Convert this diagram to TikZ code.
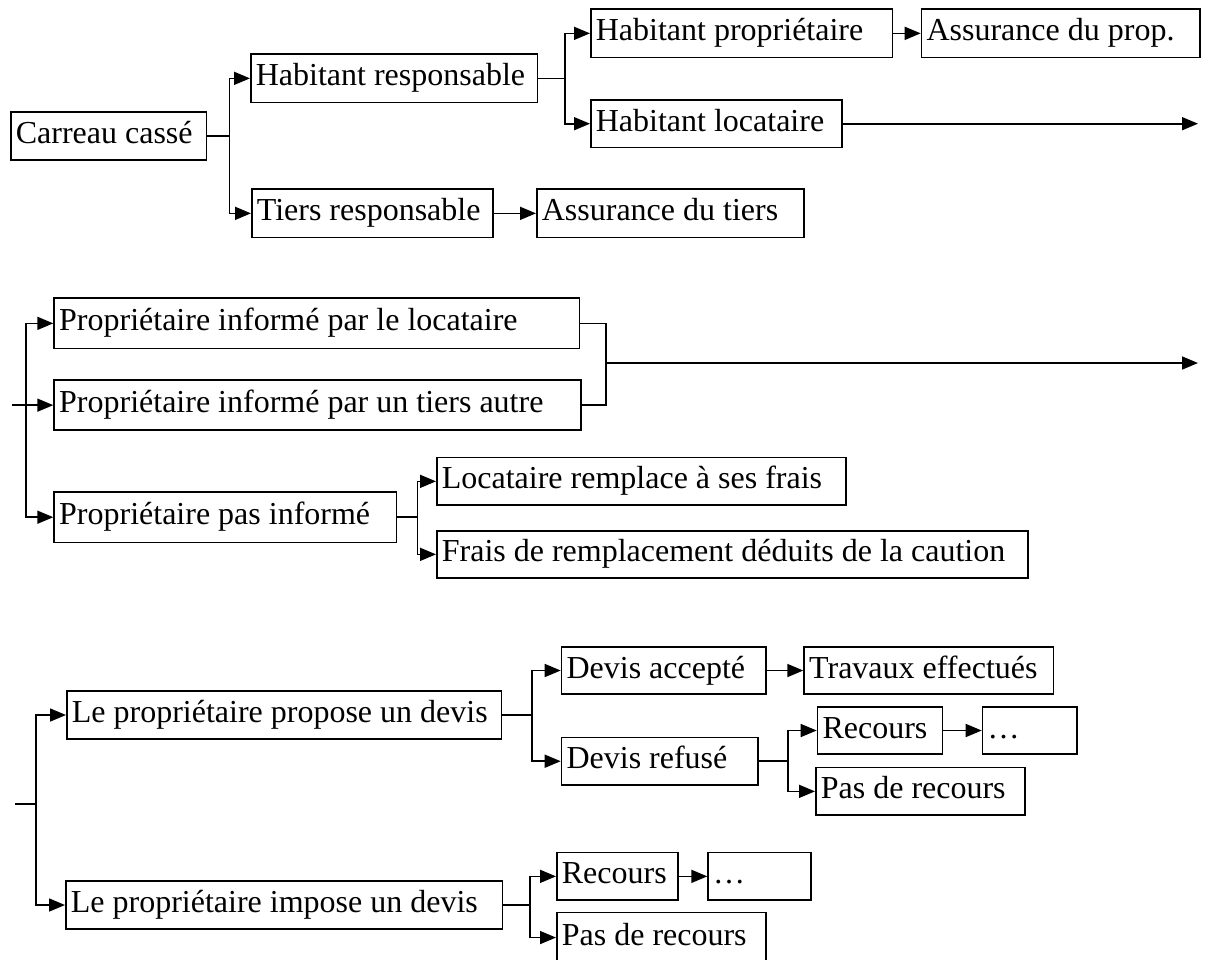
\documentclass[tikz,border=0pt]{standalone}
\usepackage{fontspec}
\setmainfont{Liberation Serif}
\usetikzlibrary{arrows.meta}
% plain word spacing, no hyphenation inside the boxes
\newcommand\boxspacing{\hyphenpenalty=10000 \spaceskip=0.25em plus 0.05em\relax}

\begin{document}
\begin{tikzpicture}[
  x=1pt, y=-1pt,
  box/.style={draw, line width=1.7pt, rectangle, anchor=north west,
    inner xsep=5pt, inner ysep=0pt,
    text height=22pt, text depth=7pt,
    font=\fontsize{32pt}{38pt}\selectfont,
    execute at begin node=\boxspacing},
  link/.style={line width=1.6pt},
  arr/.style={line width=1.6pt, -{Triangle[length=16pt,width=13pt]}}
]
\useasboundingbox (0,0) rectangle (1209,959);

% ---------- who is responsible ----------
\node[box, minimum width=195.5pt, minimum height=48pt, text width=185.5pt] (carreau) at (10,111) {Carreau cassé};
\node[box, minimum width=286.7pt, minimum height=48.4pt, text width=276.7pt] (habresp) at (250,53.3) {Habitant responsable};
\node[box, minimum width=241pt, minimum height=48.4pt, text width=231pt] (tiersresp) at (251,188.3) {Tiers responsable};
\node[box, minimum width=267pt, minimum height=48.4pt, text width=257pt] (asstiers) at (536,188.3) {Assurance du tiers};
\node[box, minimum width=301.7pt, minimum height=48.4pt, text width=291.7pt] (habprop) at (590,8.3) {Habitant propriétaire};
\node[box, minimum width=278.3pt, minimum height=48.4pt, text width=268.3pt] (assprop) at (920.7,8.3) {Assurance du prop.};
\node[box, minimum width=251pt, minimum height=47.7pt, text width=241pt] (habloc) at (590,99) {Habitant locataire};

\draw[link] (carreau.east) -- ++(22.2,0) coordinate (j1);
\draw[arr] (j1) |- (habresp.west);
\draw[arr] (j1) |- (tiersresp.west);
\draw[arr] (tiersresp.east) -- (asstiers.west);
\draw[link] (habresp.east) -- ++(26.6,0) coordinate (j2);
\draw[arr] (j2) |- (habprop.west);
\draw[arr] (j2) |- (habloc.west);
\draw[arr] (habprop.east) -- (assprop.west);
\coordinate (out1) at (1198,0);
\draw[arr] (habloc.east) -- (habloc.east -| out1);

% ---------- is the owner informed ----------
\node[box, minimum width=525.4pt, minimum height=50.4pt, text width=515.4pt] (pil) at (53.3,297.3) {Propriétaire informé par le locataire};
\node[box, minimum width=526.7pt, minimum height=50pt, text width=516.7pt] (pta) at (53.3,379.3) {Propriétaire informé par un tiers autre};
\node[box, minimum width=342.4pt, minimum height=50.7pt, text width=332.4pt] (ppi) at (53.3,491) {Propriétaire pas informé};
\node[box, minimum width=409pt, minimum height=47.6pt, text width=399pt] (lrf) at (436,456.7) {Locataire remplace à ses frais};
\node[box, minimum width=591pt, minimum height=47pt, text width=581pt] (frc) at (436,530) {Frais de remplacement déduits de la caution};

\coordinate (s2) at (11.7,0);
\coordinate (j4x) at (25.7,0);
\draw[arr] (pta.west -| s2) -- (pta.west);
\draw[arr] (pta.west -| j4x) |- (pil.west);
\draw[arr] (pta.west -| j4x) |- (ppi.west);
\coordinate (j3) at (606,363);
\draw[link] (pil.east) -| (j3) |- (pta.east);
\coordinate (out2) at (1198,363);
\draw[arr] (j3) -- (out2);
\draw[link] (ppi.east) -- ++(20,0) coordinate (j5);
\draw[arr] (j5) |- (lrf.west);
\draw[arr] (j5) |- (frc.west);

% ---------- the quote ----------
\node[box, minimum width=434.7pt, minimum height=48.3pt, text width=424.7pt] (propose) at (66,690) {Le propriétaire propose un devis};
\node[box, minimum width=436.7pt, minimum height=48.3pt, text width=426.7pt] (impose) at (65,880) {Le propriétaire impose un devis};
\node[box, minimum width=204.3pt, minimum height=47.3pt, text width=194.3pt] (dacc) at (560.7,646) {Devis accepté};
\node[box, minimum width=196.6pt, minimum height=47.3pt, text width=186.6pt] (dref) at (560.7,736.7) {Devis refusé};
\node[box, minimum width=249.4pt, minimum height=47.3pt, text width=239.4pt] (trav) at (803.3,646) {Travaux effectués};
\node[box, minimum width=125pt, minimum height=47.3pt, text width=115pt] (rec1) at (816.7,706) {Recours};
\node[box, minimum width=94.3pt, minimum height=47.3pt, text width=84.3pt] (dots1) at (981.7,706) {…};
\node[box, minimum width=209pt, minimum height=47.6pt, text width=199pt] (pdr1) at (815,766.7) {Pas de recours};
\node[box, minimum width=121.3pt, minimum height=47.6pt, text width=111.3pt] (rec2) at (556,851.7) {Recours};
\node[box, minimum width=102.7pt, minimum height=47.6pt, text width=92.7pt] (dots2) at (707.3,851.7) {…};
\node[box, minimum width=209pt, minimum height=50pt, text width=199pt] (pdr2) at (556,911.7) {Pas de recours};

\coordinate (s3) at (15,804);
\coordinate (j6) at (36,804);
\draw[link] (s3) -- (j6);
\draw[arr] (j6) |- (propose.west);
\draw[arr] (j6) |- (impose.west);
\draw[link] (propose.east) -- ++(29.3,0) coordinate (j7);
\draw[arr] (j7) |- (dacc.west);
\draw[arr] (j7) |- (dref.west);
\draw[arr] (dacc.east) -- (trav.west);
\draw[link] (dref.east) -- ++(28.7,0) coordinate (j8);
\draw[arr] (j8) |- (rec1.west);
\draw[arr] (j8) |- (pdr1.west);
\draw[arr] (rec1.east) -- (dots1.west);
\draw[link] (impose.east) -- ++(26.6,0) coordinate (j9);
\draw[arr] (j9) |- (rec2.west);
\draw[arr] (j9) |- (pdr2.west);
\draw[arr] (rec2.east) -- (dots2.west);
\end{tikzpicture}
\end{document}
